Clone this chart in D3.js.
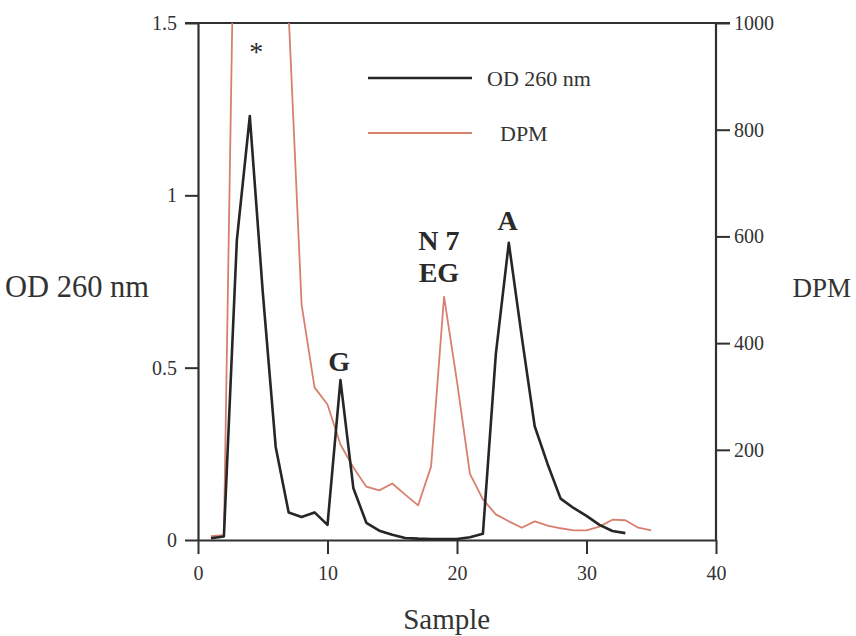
<!DOCTYPE html>
<html>
<head>
<meta charset="utf-8">
<script src="https://cdn.jsdelivr.net/npm/d3@7"></script>
<style>
  html, body { margin: 0; padding: 0; background: #ffffff; }
  svg { display: block; font-family: "Liberation Serif", "Times New Roman", serif; }
</style>
</head>
<body>
<svg id="chart" width="856" height="636"></svg>
<script>
// ---- data ----
const odSamples = d3.range(1, 34);
const odValues = [0.005, 0.01, 0.87, 1.23, 0.72, 0.27, 0.08, 0.067, 0.08, 0.044,
                  0.464, 0.15, 0.05, 0.027, 0.015, 0.006, 0.004, 0.003, 0.003, 0.003,
                  0.008, 0.018, 0.54, 0.862, 0.59, 0.33, 0.22, 0.12, 0.093, 0.07,
                  0.044, 0.026, 0.02];
const dpmSamples = d3.range(1, 36);
const dpmValues = [38, 40, 1530, 2300, 2100, 1500, 1017, 472, 317, 285,
                   210, 167, 131, 124, 137, 116, 96, 169, 487, 328,
                   155, 107, 79, 66, 54, 66, 58, 53, 49, 49,
                   56, 69, 68, 54, 49];
const xTicks = [0, 10, 20, 30, 40];
const leftTicks = [0, 0.5, 1, 1.5];
const leftTickLabels = ["0", "0.5", "1", "1.5"];
const rightTicks = [200, 400, 600, 800, 1000];
const peakLabels = [
  {text: "*", x: 4.5, y: 1.39, bold: false},
  {text: "G", x: 10.9, y: 0.49, bold: true},
  {text: "N 7", x: 18.6, y: 0.84, bold: true},
  {text: "EG", x: 18.6, y: 0.75, bold: true},
  {text: "A", x: 23.9, y: 0.90, bold: true}
];
const legendItems = [
  {name: "OD 260 nm", color: "#262626", width: 2.6},
  {name: "DPM", color: "#d8806f", width: 1.8}
];

// ---- layout ----
const svg = d3.select("#chart");
const L = 198, R = 716, T = 23, B = 540;
const x = d3.scaleLinear().domain([0, 40]).range([L, R]);
const yL = d3.scaleLinear().domain([0, 1.5]).range([B, T]);
const yR = d3.scaleLinear().domain([31, 1000]).range([B, T]);

svg.append("defs").append("clipPath").attr("id", "plot")
  .append("rect").attr("x", L).attr("y", T).attr("width", R - L).attr("height", B - T);

const axisColor = "#303030";

// top frame line (incl. outer ticks)
svg.append("line")
  .attr("x1", L - 13).attr("x2", R + 14)
  .attr("y1", yL(1.5)).attr("y2", yL(1.5))
  .attr("stroke", axisColor).attr("stroke-width", 2.2);

// axes
const styleAxis = (g, size) => {
  g.selectAll("path.domain").attr("stroke", axisColor).attr("stroke-width", 2.2);
  g.selectAll(".tick line").attr("stroke", axisColor).attr("stroke-width", 2);
  g.selectAll(".tick text").attr("fill", "#333").style("font-size", size + "px")
    .style("font-family", '"Liberation Serif", "Times New Roman", serif');
};

const gx = svg.append("g").attr("transform", `translate(0,${B})`)
  .call(d3.axisBottom(x).tickValues(xTicks).tickSize(14).tickSizeOuter(0).tickPadding(12));
styleAxis(gx, 20);

const gl = svg.append("g").attr("transform", `translate(${L},0)`)
  .call(d3.axisLeft(yL).tickValues(leftTicks).tickFormat((d, i) => leftTickLabels[i])
    .tickSize(13).tickSizeOuter(0).tickPadding(8));
styleAxis(gl, 20);

const gr = svg.append("g").attr("transform", `translate(${R},0)`)
  .call(d3.axisRight(yR).tickValues(rightTicks).tickFormat(d3.format("d"))
    .tickSize(14).tickSizeOuter(0).tickPadding(4));
gr.select("path.domain").attr("d", `M0,${B}V${T}`);
styleAxis(gr, 20);

// series
const lineOD = d3.line().x((d, i) => x(odSamples[i])).y(d => yL(d));
const lineDPM = d3.line().x((d, i) => x(dpmSamples[i])).y(d => yR(d));

const plot = svg.append("g").attr("clip-path", "url(#plot)");
plot.append("path").datum(dpmValues).attr("d", lineDPM)
  .attr("fill", "none").attr("stroke", legendItems[1].color)
  .attr("stroke-width", legendItems[1].width).attr("stroke-linejoin", "round");
plot.append("path").datum(odValues).attr("d", lineOD)
  .attr("fill", "none").attr("stroke", legendItems[0].color)
  .attr("stroke-width", legendItems[0].width).attr("stroke-linejoin", "round");

// peak labels
svg.selectAll("text.peak").data(peakLabels).enter().append("text")
  .attr("class", "peak")
  .attr("x", d => x(d.x)).attr("y", d => yL(d.y))
  .attr("text-anchor", "middle")
  .style("font-size", "28px")
  .style("font-weight", d => d.bold ? "bold" : "normal")
  .attr("fill", "#2a2a2a")
  .text(d => d.text);

// legend
const leg = svg.append("g");
legendItems.forEach((d, i) => {
  const yy = 78 + i * 55;
  leg.append("line").attr("x1", 368).attr("x2", 472).attr("y1", yy).attr("y2", yy)
    .attr("stroke", d.color).attr("stroke-width", d.width);
  leg.append("text").attr("x", i === 0 ? 487 : 500).attr("y", yy + 8)
    .style("font-size", "22px").attr("fill", "#333").text(d.name);
});

// axis titles
svg.append("text").attr("x", 5).attr("y", 297).style("font-size", "30.5px")
  .attr("fill", "#333").text("OD 260 nm");
svg.append("text").attr("x", 851).attr("y", 297).attr("text-anchor", "end")
  .style("font-size", "27px").attr("fill", "#333").text("DPM");
svg.append("text").attr("x", x(19.2)).attr("y", 629).attr("text-anchor", "middle")
  .style("font-size", "29px").attr("fill", "#333").text("Sample");
</script>
</body>
</html>
